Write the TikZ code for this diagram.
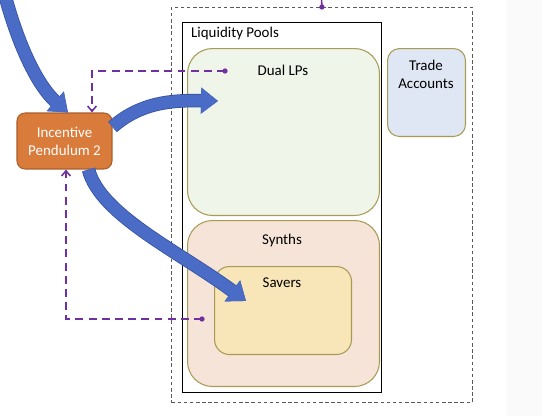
\documentclass[tikz,border=0pt]{standalone}
\usepackage{fontspec}
\setmainfont{Carlito}
\usetikzlibrary{arrows.meta,positioning,calc}
\definecolor{ipfill}{HTML}{D97B3B}
\definecolor{ipedge}{HTML}{A85E2A}
\definecolor{flowblue}{HTML}{4A6CC6}
\definecolor{flowedge}{HTML}{34509E}
\definecolor{ctrlpurple}{HTML}{7030A0}
\definecolor{boxedge}{HTML}{A89B55}
\definecolor{dualfill}{HTML}{EFF5E8}
\definecolor{tradefill}{HTML}{DEE7F3}
\definecolor{synthfill}{HTML}{F6E4D8}
\definecolor{saverfill}{HTML}{F8E5B8}

\begin{document}
\begin{tikzpicture}[x=0.02cm,y=-0.02cm,font=\fontsize{8.5}{10.2}\selectfont,>=Latex,
  pool/.style={draw=boxedge,line width=0.6pt,anchor=north west,inner sep=0pt},
  flow/.style={draw=flowblue,line width=0.24cm,-{Triangle[length=0.34cm,width=0.5cm]},preaction={draw=flowedge,line width=0.27cm}},
  ctrl/.style={draw=ctrlpurple,line width=0.9pt,dash pattern=on 4.5pt off 3pt}]
\useasboundingbox (0,0) rectangle (542,416);
\fill[gray!4] (507,0) rectangle (542,416);
% frames
\node[anchor=north west,draw=gray!70!black,line width=0.5pt,dash pattern=on 2pt off 1.5pt,minimum width=6.02cm,minimum height=7.9cm,inner sep=0pt] (outer) at (171,7) {};
\node[anchor=north west,draw=black,line width=0.6pt,fill=white,minimum width=3.98cm,minimum height=7.4cm,inner sep=0pt] (lp) at (182,22) {};
\node[anchor=west] (lplbl) at (185,34) {Liquidity Pools};
% pools
\node[pool,fill=dualfill,rounded corners=0.5cm,minimum width=3.84cm,minimum height=3.34cm] (dual) at (187,48) {};
\node (duallbl) at (283,70) {Dual LPs};
\node[pool,fill=tradefill,rounded corners=0.24cm,minimum width=1.56cm,minimum height=1.76cm] (trade) at (387,48) {};
\node[align=center] (tradelbl) at (426,74) {Trade\\Accounts};
\node[pool,fill=synthfill,rounded corners=0.5cm,minimum width=3.84cm,minimum height=3.32cm] (synths) at (187,220) {};
\node (synthlbl) at (282,241) {Synths};
\node[pool,fill=saverfill,rounded corners=0.3cm,minimum width=2.74cm,minimum height=1.76cm] (savers) at (214,266) {};
\node (saverlbl) at (282,283) {Savers};
% pendulum
\node[draw=ipedge,fill=ipfill,text=white,rounded corners=0.16cm,minimum width=1.9cm,minimum height=1.12cm,align=center,line width=0.6pt] (ip) at (64.5,141) {Incentive\\Pendulum 2};
% blue flows
\coordinate (src) at (4,-8);
\coordinate (dualtip) at (218,101);
\coordinate (savertip) at (246,301);
\draw[flow] (src) .. controls (20,52) and (40,88) .. ([xshift=0.07cm]ip.north);
\draw[flow] ([yshift=0.28cm]ip.east) .. controls (140,103) and (170,100) .. (dualtip);
\draw[flow] ([xshift=0.48cm]ip.south) .. controls (100,215) and (180,252) .. (savertip);
% control lines
\coordinate (dualdot) at (225,71);
\coordinate (saverdot) at (202,319);
\coordinate (topend) at (321.5,-2);
\draw[ctrl,-{Straight Barb[length=3pt,width=5pt]}] (dualdot) -| ([xshift=0.55cm]ip.north);
\draw[ctrl,-{Straight Barb[length=3pt,width=5pt]}] (saverdot) -| ([xshift=0.03cm]ip.south);
\draw[ctrl] (topend) -- (outer.north);
\foreach \p in {dualdot,saverdot,outer.north}{\fill[ctrlpurple] (\p) circle (1.5pt);}
\end{tikzpicture}
\end{document}
